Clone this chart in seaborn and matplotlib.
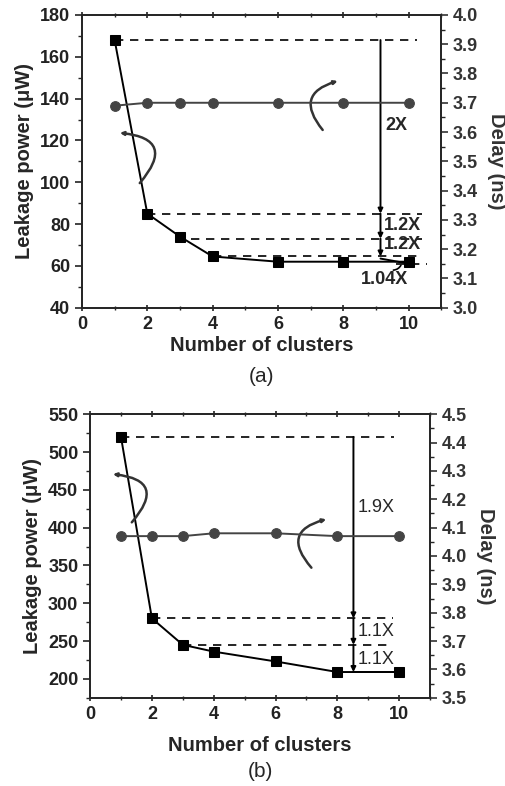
import matplotlib
matplotlib.use("Agg")
import matplotlib.pyplot as plt
import seaborn as sns
import numpy as np
from matplotlib.ticker import MultipleLocator

# cluster counts shared by both panels
clusters = [1, 2, 3, 4, 6, 8, 10]

# panel (a)
leak_a = [168, 85, 74, 64.5, 62, 62, 62]
delay_a = [3.69, 3.70, 3.70, 3.70, 3.70, 3.70, 3.70]

# panel (b)
leak_b = [520, 280, 245, 236, 223, 209, 209]
delay_b = [4.07, 4.07, 4.07, 4.08, 4.08, 4.07, 4.07]

sns.set_style("ticks")
plt.rcParams['font.family'] = ['Liberation Sans', 'DejaVu Sans']
plt.rcParams['font.weight'] = 'bold'
plt.rcParams['axes.linewidth'] = 1.3

fig = plt.figure(figsize=(5.06, 7.86), dpi=100)
ax_a = fig.add_axes([0.162, 0.6085, 0.710, 0.3725])
ax_b = fig.add_axes([0.178, 0.1123, 0.672, 0.3607])


def setup(ax, ylim, ystep, rlim, xlab_pad):
    ax.set_xlim(0, 11)
    ax.set_ylim(*ylim)
    ax.xaxis.set_major_locator(MultipleLocator(2))
    ax.xaxis.set_minor_locator(MultipleLocator(1))
    ax.yaxis.set_major_locator(MultipleLocator(ystep))
    ax.yaxis.set_minor_locator(MultipleLocator(ystep / 2))
    ax.tick_params(axis='both', which='major', labelsize=13, width=1.2, length=5,
                   colors='#222', direction='out')
    ax.tick_params(axis='both', which='minor', width=1.0, length=3, direction='out')
    ax.tick_params(axis='x', which='both', top=True, direction='inout')
    ax.set_xlabel("Number of clusters", fontsize=14.5, fontweight='bold', labelpad=xlab_pad)
    ax.set_ylabel("Leakage power (\u03bcW)", fontsize=14.5, fontweight='bold', labelpad=4)
    for lab in ax.get_xticklabels() + ax.get_yticklabels():
        lab.set_fontweight('bold')
    tw = ax.twinx()
    tw.set_ylim(*rlim)
    tw.yaxis.set_major_locator(MultipleLocator(0.1))
    tw.yaxis.set_minor_locator(MultipleLocator(0.05))
    tw.tick_params(axis='y', which='major', labelsize=13, width=1.2, length=5, colors='#333')
    tw.tick_params(axis='y', which='minor', width=1.0, length=3)
    for lab in tw.get_yticklabels():
        lab.set_fontweight('bold')
    tw.set_ylabel("Delay (ns)", fontsize=14.5, fontweight='bold', rotation=270, labelpad=20, color='#333')
    return tw


tw_a = setup(ax_a, (40, 180), 20, (3.0, 4.0), 2)
tw_b = setup(ax_b, (175, 550), 50, (3.5, 4.5), 9)

for ax, tw, leak, delay in [(ax_a, tw_a, leak_a, delay_a), (ax_b, tw_b, leak_b, delay_b)]:
    sns.lineplot(x=clusters, y=leak, ax=ax, color='black', marker='s', markersize=7,
                 linewidth=1.4, markeredgecolor='black')
    sns.lineplot(x=clusters, y=delay, ax=tw, color='#444', marker='o', markersize=7,
                 linewidth=1.4, markeredgecolor='#444')
    tw.set_zorder(ax.get_zorder() + 1)
    tw.patch.set_visible(False)

dash = dict(color='black', linestyle=(0, (5, 4)), linewidth=1.2)
arr = dict(arrowstyle='-|>', color='black', lw=1.4, mutation_scale=7, shrinkA=0, shrinkB=0)
curve_kw = dict(arrowstyle='->', color='#333', lw=1.8, mutation_scale=5, shrinkA=0, shrinkB=0)

# panel (a) annotations
ax_a.plot([1, 10.25], [168, 168], **dash)
ax_a.plot([2, 10.4], [85, 85], **dash)
ax_a.plot([3.35, 10.4], [73, 73], **dash)
ax_a.plot([4, 10.4], [64.5, 64.5], **dash)
ax_a.plot([9.6, 10.55], [61, 61], **dash)
ax_a.annotate('', xy=(9.14, 85), xytext=(9.14, 168), arrowprops=arr)
ax_a.annotate('', xy=(9.14, 73), xytext=(9.14, 85), arrowprops=arr)
ax_a.annotate('', xy=(9.14, 64.5), xytext=(9.14, 73), arrowprops=arr)
ax_a.plot([9.14, 9.85], [63.5, 61.5], color='black', lw=1.4)
ax_a.annotate('', xy=(9.8, 61.5), xytext=(9.45, 58),
              arrowprops=dict(arrowstyle='-', color='black', lw=1.2,
                              connectionstyle='arc3,rad=0.4'))
ax_a.text(9.3, 127, "2X", fontsize=13, fontweight='bold', va='center')
ax_a.text(9.25, 79.5, "1.2X", fontsize=13, fontweight='bold', va='center')
ax_a.text(9.25, 70, "1.2X", fontsize=13, fontweight='bold', va='center')
ax_a.text(9.25, 53.5, "1.04X", fontsize=13, fontweight='bold', va='center', ha='center')
ax_a.annotate('', xy=(1.16, 123.6), xytext=(1.77, 99.6),
              arrowprops=dict(connectionstyle='arc3,rad=0.95', **curve_kw))
ax_a.annotate('', xy=(7.83, 148.4), xytext=(7.37, 125),
              arrowprops=dict(connectionstyle='arc3,rad=-0.75', **curve_kw))
ax_a.text(0.5, -0.235, "(a)", transform=ax_a.transAxes, ha='center', va='center',
          fontsize=15, fontweight='normal')

# panel (b) annotations
ax_b.plot([1, 9.84], [520, 520], **dash)
ax_b.plot([2, 9.8], [280, 280], **dash)
ax_b.plot([3, 9.8], [245, 245], **dash)
ax_b.plot([8.52, 10], [209, 209], color='black', lw=1.3)
ax_b.annotate('', xy=(8.52, 280), xytext=(8.52, 520), arrowprops=arr)
ax_b.annotate('', xy=(8.52, 245), xytext=(8.52, 280), arrowprops=arr)
ax_b.annotate('', xy=(8.52, 209), xytext=(8.52, 245), arrowprops=arr)
ax_b.text(8.66, 426, "1.9X", fontsize=13, va='center', fontweight='normal')
ax_b.text(8.66, 262, "1.1X", fontsize=13, va='center', fontweight='normal')
ax_b.text(8.66, 226, "1.1X", fontsize=13, va='center', fontweight='normal')
ax_b.annotate('', xy=(0.74, 470.7), xytext=(1.35, 407),
              arrowprops=dict(connectionstyle='arc3,rad=0.95', **curve_kw))
ax_b.annotate('', xy=(7.64, 411), xytext=(7.16, 347),
              arrowprops=dict(connectionstyle='arc3,rad=-0.8', **curve_kw))
ax_b.text(0.5, -0.26, "(b)", transform=ax_b.transAxes, ha='center', va='center',
          fontsize=15, fontweight='normal')

fig.savefig("out.png", dpi=100)
